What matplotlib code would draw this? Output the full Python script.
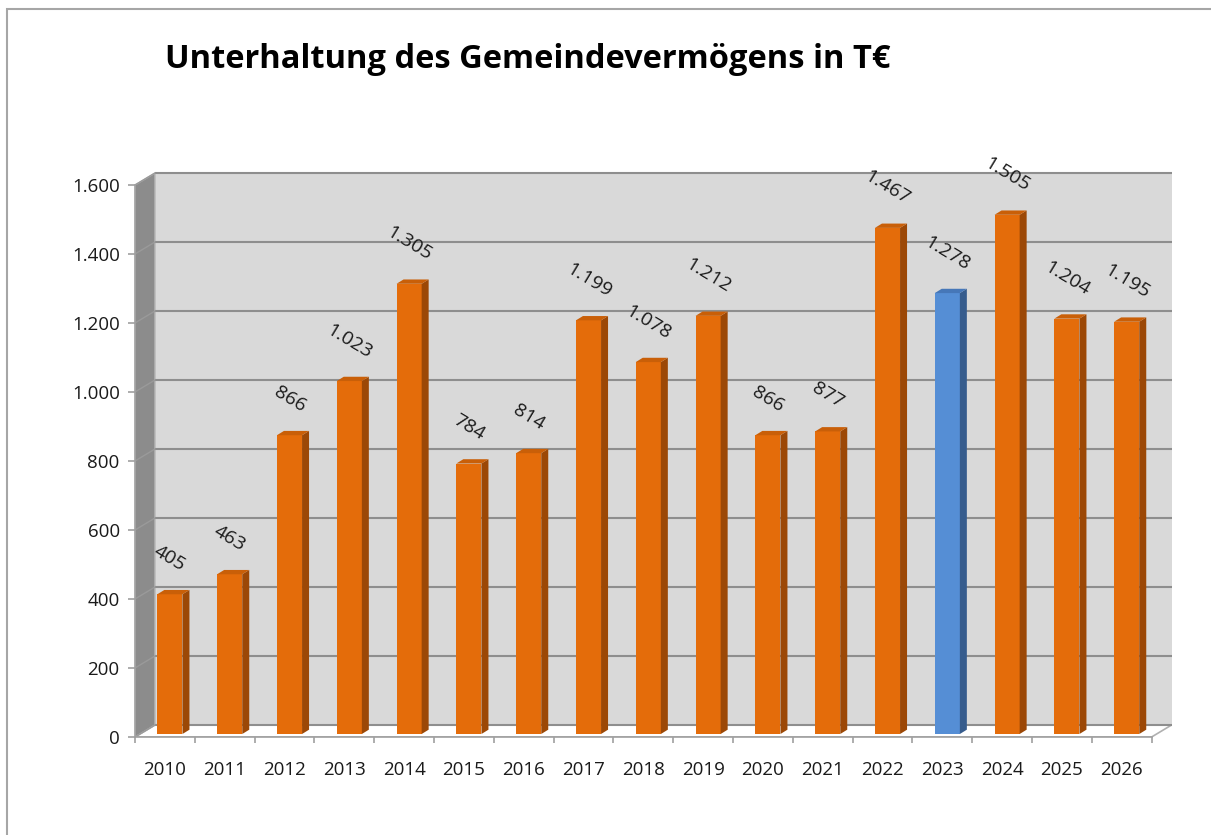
import numpy as np
import matplotlib
matplotlib.use('Agg')
from matplotlib import pyplot as plt
from matplotlib.patches import Polygon, Rectangle

plt.rcParams['font.family'] = ['Open Sans', 'DejaVu Sans']

# data
years = ['2010', '2011', '2012', '2013', '2014', '2015', '2016', '2017', '2018',
         '2019', '2020', '2021', '2022', '2023', '2024', '2025', '2026']
values = [405, 463, 866, 1023, 1305, 784, 814, 1199, 1078,
          1212, 866, 877, 1467, 1278, 1505, 1204, 1195]
highlight = '2023'
yticks = [0, 200, 400, 600, 800, 1000, 1200, 1400, 1600]

# 3d look (in data units)
dx, dy = 0.334, 34.8          # depth of the walls
bf = 0.25                     # where the bar front sits in the depth
bdx, bdy = 0.117, 12.5        # bar depth
bw = 0.42                     # bar width

orange = ('#E46C0A', '#9C4806', '#C95F08')
blue = ('#558ED5', '#365C8D', '#4677B8')
grid_col = '#8E8E8E'

fig = plt.figure(figsize=(12.11, 8.35), dpi=100)
ax = fig.add_axes([135/1211, (835-737)/835, (1181.5-135)/1211, (737-157.4)/835])
ax.set_xlim(-0.5, 17.0)
ax.set_ylim(0, 1680)
ax.set_facecolor('none')

n = len(years)
x0, x1 = -0.5, n - 0.5
top = yticks[-1]

# floor
ax.add_patch(Polygon([(x0, 0), (x1, 0), (x1+dx, dy), (x0+dx, dy)], closed=True,
                     facecolor='white', edgecolor='#B0B0B0', lw=1.2, zorder=1))
# back wall
ax.add_patch(Rectangle((x0+dx, dy), x1-x0, top, facecolor='#D9D9D9',
                       edgecolor='none', zorder=1))
# side wall
ax.add_patch(Polygon([(x0, 0), (x0, top), (x0+dx, top+dy), (x0+dx, dy)], closed=True,
                     facecolor='#8C8C8C', edgecolor='#B5B5B5', lw=1, zorder=2))

for v in yticks:
    ax.plot([x0+dx, x1+dx], [v+dy, v+dy], color=grid_col, lw=1.5, zorder=2,
            solid_capstyle='butt')
    ax.plot([x0, x0+dx], [v, v+dy], color='#9A9A9A', lw=1, zorder=3)

# bars
for i, (yr, v) in enumerate(zip(years, values)):
    front, side, topc = blue if yr == highlight else orange
    xc = i + bf*dx
    y0 = bf*dy
    xl, xr = xc - bw/2, xc + bw/2
    yt = v + y0
    ax.add_patch(Rectangle((xl, y0), bw, v, facecolor=front, edgecolor='none', zorder=5))
    ax.add_patch(Polygon([(xr, y0), (xr, yt), (xr+bdx, yt+bdy), (xr+bdx, y0+bdy)],
                         closed=True, facecolor=side, edgecolor='none', zorder=5))
    ax.add_patch(Polygon([(xl, yt), (xr, yt), (xr+bdx, yt+bdy), (xl+bdx, yt+bdy)],
                         closed=True, facecolor=topc, edgecolor='none', zorder=5))
    ax.annotate(f'{v:,}'.replace(',', '.'), (xc, yt), xytext=(0, 14),
                textcoords='offset points', ha='center', va='bottom',
                rotation=-31, fontsize=14, color='#1A1A1A', zorder=6,
                annotation_clip=False)

# axes
for s in ['top', 'right']:
    ax.spines[s].set_visible(False)
ax.spines['left'].set_bounds(0, top)
ax.spines['bottom'].set_bounds(x0, x1)
for s in ['left', 'bottom']:
    ax.spines[s].set_color('#A0A0A0')
    ax.spines[s].set_linewidth(1.2)
    ax.spines[s].set_zorder(4)

ax.set_yticks(yticks)
ax.set_yticklabels([f'{t:,}'.replace(',', '.') for t in yticks])
ax.tick_params(axis='y', length=5, width=1.2, color='#A0A0A0', pad=6,
               labelsize=13.5, labelcolor='#1A1A1A')
ax.set_xticks(range(n))
ax.set_xticklabels(years)
ax.set_xticks(np.arange(n+1) - 0.5, minor=True)
ax.tick_params(axis='x', which='major', length=0, pad=17, labelsize=13.5,
               labelcolor='#1A1A1A')
ax.tick_params(axis='x', which='minor', length=4, width=1.2, color='#A0A0A0')

fig.text(165/1211, 1 - 68/835, 'Unterhaltung des Gemeindevermögens in T€',
         fontsize=23.5, fontweight='bold', color='black', va='baseline', ha='left')

fig.add_artist(Rectangle((7/1211, -0.05), 1.1, 1 - 9/835 + 0.05,
                         transform=fig.transFigure, facecolor='none',
                         edgecolor='#A6A6A6', lw=1.5))

fig.savefig('out.png', dpi=100)
